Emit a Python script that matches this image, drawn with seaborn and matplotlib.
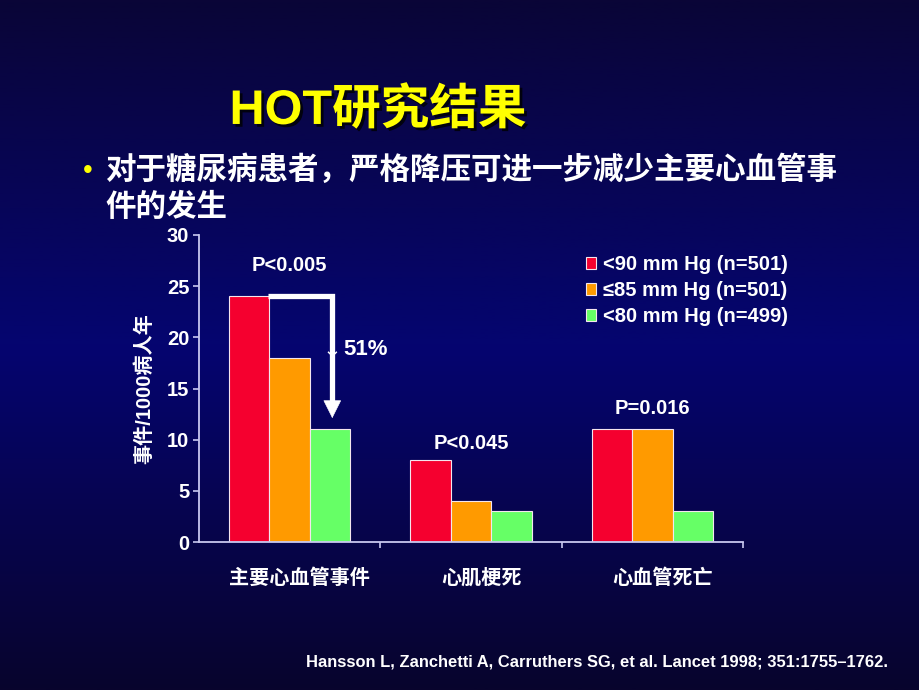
import numpy as np
import pandas as pd
import matplotlib
matplotlib.use("Agg")
import matplotlib.pyplot as plt
from matplotlib.colors import LinearSegmentedColormap
from matplotlib.transforms import ScaledTranslation
from matplotlib import patheffects as pe
import seaborn as sns

# ---- data ----
categories = ['主要心血管事件', '心肌梗死', '心血管死亡']
groups = ['<90 mm Hg (n=501)', '≤85 mm Hg (n=501)', '<80 mm Hg (n=499)']
values_90 = [24, 8, 11]
values_85 = [18, 4, 11]
values_80 = [11, 3, 3]
p_labels = ['P<0.005', 'P<0.045', 'P=0.016']
p_label_y = [27.0, 9.6, 13.0]
yticks = [0, 5, 10, 15, 20, 25, 30]
reduction_label = '51%'
title = 'HOT研究结果'
bullet_line1 = '对于糖尿病患者，严格降压可进一步减少主要心血管事'
bullet_line2 = '件的发生'
ylabel = '事件/1000病人年'
citation = 'Hansson L, Zanchetti A, Carruthers SG, et al. Lancet 1998; 351:1755\u20131762.'

df = pd.DataFrame({
    'category': categories * 3,
    'group': [groups[0]] * 3 + [groups[1]] * 3 + [groups[2]] * 3,
    'value': values_90 + values_85 + values_80,
})

palette = ['#f5002f', '#ff9a00', '#66ff66']

sns.set_theme(style='white')
plt.rcParams['font.family'] = ['Liberation Sans', 'Noto Sans CJK SC', 'DejaVu Sans']

W, H = 920, 690
fig = plt.figure(figsize=(9.2, 6.9), dpi=100)

# background gradient
bg = fig.add_axes([0, 0, 1, 1], zorder=-10)
cmap = LinearSegmentedColormap.from_list(
    'bg', [(0.0, (10/255, 5/255, 55/255)), (0.5, (5/255, 5/255, 112/255)),
           (1.0, (8/255, 4/255, 45/255))])
grad = np.linspace(0, 1, 512).reshape(-1, 1)
bg.imshow(grad, aspect='auto', cmap=cmap, extent=[0, 1, 0, 1], origin='upper')
bg.set_axis_off()

def fx(px):
    return px / W

def fy(py):
    return 1 - py / H

ax = fig.add_axes([fx(199), fy(542), (743 - 199) / W, (542 - 235) / H])
ax.set_facecolor('none')

sns.barplot(data=df, x='category', y='value', hue='group', order=categories,
            hue_order=groups, palette=palette, saturation=1, width=0.67,
            edgecolor='#f4e6ee', linewidth=0.8, ax=ax, legend=True)

ax.set_xlim(-0.5, 2.5)
ax.set_ylim(0, 30)
ax.set_yticks(yticks)
ax.set_yticklabels([str(v) for v in yticks])

axis_color = '#c8c8f0'
for s in ['top', 'right']:
    ax.spines[s].set_visible(False)
for s in ['left', 'bottom']:
    ax.spines[s].set_color(axis_color)
    ax.spines[s].set_linewidth(1.3)

ax.tick_params(axis='y', direction='out', length=4, width=1.2, color=axis_color,
               labelcolor='white', labelsize=14.5, pad=3, left=True)
for lab in ax.get_yticklabels():
    lab.set_fontweight('bold')

ax.set_xticks([0, 1, 2])
ax.set_xticklabels(categories, fontsize=14.5, fontweight='bold', color='white')
ax.tick_params(axis='x', which='major', length=0, pad=19)
shift = ScaledTranslation(0.10, 0, fig.dpi_scale_trans)
for lab in ax.get_xticklabels():
    lab.set_transform(lab.get_transform() + shift)
ax.set_xticks([0.5, 1.5, 2.5], minor=True)
ax.tick_params(axis='x', which='minor', direction='out', length=4, width=1.2,
               color=axis_color, bottom=True)
ax.set_xlabel('')
ax.set_ylabel(ylabel, fontsize=14.5, fontweight='bold', color='white', labelpad=9)

# p labels
for i, (t, yv) in enumerate(zip(p_labels, p_label_y)):
    ax.text(i, yv, t, ha='center', va='center', fontsize=14.5,
            fontweight='bold', color='white')

# reduction arrow
xa = 0.235
ax.plot([-0.119, xa, xa], [24, 24, 13.6], color='white', lw=3.8,
        solid_joinstyle='miter', solid_capstyle='butt', zorder=5)
ax.annotate('', xy=(xa, 12.1), xytext=(xa, 14.0),
            arrowprops=dict(arrowstyle='-|>,head_length=0.6,head_width=0.3',
                            color='white', lw=0.5, mutation_scale=20,
                            shrinkA=0, shrinkB=0), zorder=6)
ax.text(0.292, 18.7, '\u2193', ha='right', va='center', fontsize=15,
        color='white', family=['Noto Sans CJK SC', 'DejaVu Sans'])
ax.text(0.296, 18.8, reduction_label, ha='left', va='center', fontsize=16,
        fontweight='bold', color='white')

# legend
handles, labels = ax.get_legend_handles_labels()
leg = ax.legend(handles, labels, loc='upper left',
                bbox_to_anchor=(fx(586), fy(255)), bbox_transform=fig.transFigure,
                frameon=False, handlelength=0.5, handleheight=0.5,
                handletextpad=0.35, labelspacing=0.35, borderpad=0,
                borderaxespad=0, prop={'size': 14.5, 'weight': 'bold'})
for t in leg.get_texts():
    t.set_color('white')

# title and bullet text
fig.text(fx(378), fy(111), title, ha='center', va='center', fontsize=35,
         fontweight='bold', color='#ffff00',
         path_effects=[pe.withSimplePatchShadow(offset=(2, -2), shadow_rgbFace='black', alpha=0.8)])
fig.text(fx(88), fy(171), '\u2022', ha='center', va='center', fontsize=20,
         color='#ffff00')
fig.text(fx(105), fy(171), bullet_line1, ha='left', va='center', fontsize=22,
         fontweight='bold', color='white')
fig.text(fx(105), fy(208), bullet_line2, ha='left', va='center', fontsize=22,
         fontweight='bold', color='white')

fig.text(fx(888), fy(662), citation, ha='right', va='center', fontsize=11.9,
         fontweight='bold', color='white')

fig.savefig('out.png', dpi=100, facecolor=fig.get_facecolor())
